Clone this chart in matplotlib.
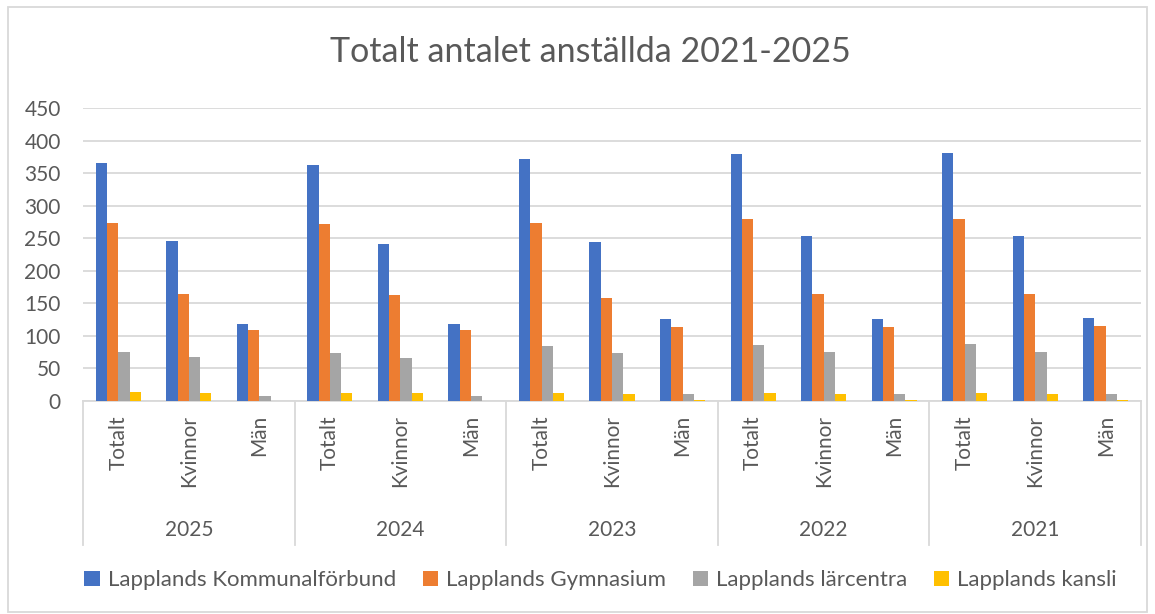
import matplotlib.pyplot as plt
from matplotlib.patches import Rectangle
import numpy as np

plt.rcParams["font.family"] = ["Lato", "DejaVu Sans"]

years = ["2025", "2024", "2023", "2022", "2021"]
groups = ["Totalt", "Kvinnor", "Män"]
series = ["Lapplands Kommunalförbund", "Lapplands Gymnasium",
          "Lapplands lärcentra", "Lapplands kansli"]
colors = ["#4472c4", "#ed7d31", "#a5a5a5", "#ffc000"]

# values per year: Totalt, Kvinnor, Män
kommunalforbund = [366, 246, 118, 362, 242, 118, 372, 245, 126, 380, 253, 126, 381, 253, 128]
gymnasium = [274, 164, 109, 272, 163, 109, 273, 159, 113, 280, 165, 113, 280, 164, 115]
larcentra = [76, 67, 8, 74, 66, 7, 84, 73, 10, 86, 75, 10, 87, 76, 10]
kansli = [14, 13, 0, 13, 12, 0, 13, 11, 1, 13, 11, 1, 13, 11, 1]

data = [kommunalforbund, gymnasium, larcentra, kansli]
text_c = "#595959"
grid_c = "#d9d9d9"

fig = plt.figure(figsize=(11.55, 6.14), dpi=100)
ax = fig.add_axes([0.0719, 0.3469, 0.916, 0.477])

n = len(years) * len(groups)
x = np.arange(n)
w = 0.16
for i, (vals, c, name) in enumerate(zip(data, colors, series)):
    ax.bar(x + (i - 1.5) * w, vals, width=w, color=c, label=name, zorder=3)

ax.set_xlim(-0.5, n - 0.5)
ax.set_ylim(0, 450)
ax.set_yticks(range(0, 451, 50))
ax.grid(axis="y", color=grid_c, linewidth=1.3, zorder=0)
for s in ["top", "right", "left"]:
    ax.spines[s].set_visible(False)
ax.spines["bottom"].set_color(grid_c)
ax.spines["bottom"].set_linewidth(1.3)
ax.tick_params(axis="y", length=0, labelsize=15, labelcolor=text_c, pad=16)
ax.set_xticks(x)
ax.set_xticklabels(groups * len(years), rotation=90, fontsize=15, color=text_c)
ax.tick_params(axis="x", length=0, pad=10)

# hierarchical category axis: separators and year labels
tr = ax.get_xaxis_transform()
for k in range(len(years) + 1):
    xs = k * len(groups) - 0.5
    ax.plot([xs, xs], [0, -0.49], transform=tr, color=grid_c, lw=1.3, clip_on=False)
for k, yr in enumerate(years):
    ax.text(k * len(groups) + 1, -0.44, yr, transform=tr, ha="center", va="center",
            fontsize=15, color=text_c)

fig.suptitle("Totalt antalet anställda 2021-2025", x=0.511, y=0.942, fontsize=24.5,
             color=text_c)

fig.legend(loc="center", bbox_to_anchor=(0.52, 0.055), ncol=4, frameon=False,
           fontsize=16, labelcolor=text_c, handlelength=0.7, handleheight=0.7,
           handletextpad=0.35, columnspacing=1.2)

fig.patches.append(Rectangle((0.007, 0.004), 0.986, 0.984, transform=fig.transFigure,
                             fill=False, edgecolor=grid_c, linewidth=1.3))

fig.savefig("out.png", dpi=100, facecolor="white")
